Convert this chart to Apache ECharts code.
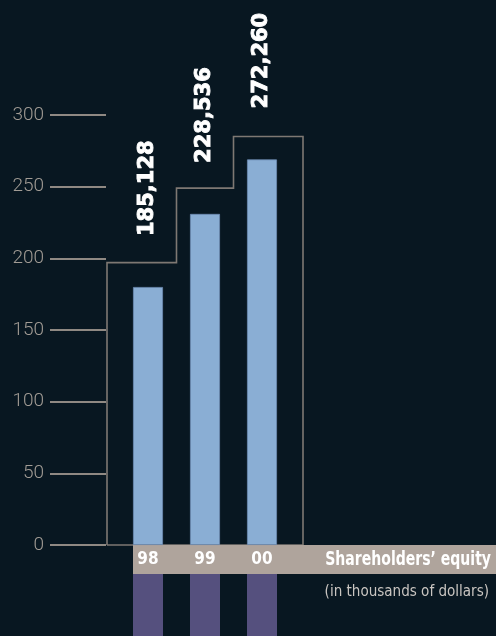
<!DOCTYPE html>
<html>
<head>
<meta charset="utf-8">
<script src="https://cdn.jsdelivr.net/npm/echarts@6/dist/echarts.min.js"></script>
<style>
html,body{margin:0;padding:0;background:#081721;}
#chart{width:496px;height:636px;}
</style>
</head>
<body>
<div id="chart"></div>
<script>
// Data
const categories = ['98', '99', '00'];
const equityBars = [180, 231, 269];          // bar heights as drawn (scale units)
const valueLabels = ['185,128', '228,536', '272,260'];
const stepLevels = [197, 249, 285];          // stepped outline levels
const yMin = 0, yMax = 300, yInterval = 50;
const titleText = 'Shareholders’ equity';
const subtitleText = '(in thousands of dollars)';

const BAR_W = 30;
const BAND_H = 29;
const PAD = 12.5;
const COND = '"Liberation Sans Narrow", "DejaVu Sans Condensed", sans-serif';

const chart = echarts.init(document.getElementById('chart'), null, {renderer: 'canvas'});

function renderDecor(params, api) {
  if (params.dataIndex !== 0) return null;
  const bw = api.size([1, 0])[0];
  const y0 = api.coord([0, 0])[1];
  const cx = categories.map((c, i) => api.coord([i, 0])[0]);
  const ly = stepLevels.map((v, i) => api.coord([i, v])[1]);
  const left = cx[0] - bw / 2 - PAD;
  const right = cx[cx.length - 1] + bw / 2 + PAD;
  const pts = [[left, y0], [left, ly[0]]];
  for (let i = 0; i < cx.length; i++) {
    const edge = i < cx.length - 1 ? cx[i] + bw / 2 : right;
    pts.push([edge, ly[i]]);
    if (i < cx.length - 1) pts.push([edge, ly[i + 1]]);
  }
  pts.push([right, y0]);
  pts.push([left, y0]);
  const children = [{
    type: 'polyline',
    shape: {points: pts},
    style: {stroke: '#7e7873', lineWidth: 1.6, fill: null}
  }];
  children.push({
    type: 'rect',
    shape: {x: cx[0] - BAR_W / 2, y: y0, width: api.getWidth() - (cx[0] - BAR_W / 2), height: BAND_H},
    style: {fill: '#afa49c'}
  });
  cx.forEach(x => {
    children.push({
      type: 'rect',
      shape: {x: x - BAR_W / 2, y: y0 + BAND_H, width: BAR_W, height: api.getHeight() - y0 - BAND_H},
      style: {fill: '#55507e'}
    });
  });
  return {type: 'group', children: children};
}

const option = {
  backgroundColor: '#081721',
  animation: false,
  graphic: [
    {
      type: 'text', x: 491, y: 559.5, scaleX: 0.78, z: 10,
      style: {
        text: titleText, align: 'right', verticalAlign: 'middle',
        fill: '#ffffff', fontFamily: COND, fontWeight: 'bold', fontSize: 20
      }
    },
    {
      type: 'text', x: 489, y: 592, scaleX: 0.94, z: 10,
      style: {
        text: subtitleText, align: 'right', verticalAlign: 'middle',
        fill: '#c9c5c1', fontFamily: COND, fontWeight: 'normal', fontSize: 16
      }
    }
  ],
  grid: {left: 119.5, right: 205.5, top: 115, bottom: 91, containLabel: false},
  xAxis: {
    type: 'category',
    data: categories,
    z: 5,
    axisLine: {show: false},
    axisTick: {show: false},
    axisLabel: {
      color: '#ffffff', fontFamily: COND,
      fontWeight: 'bold', fontSize: 17, margin: 6
    }
  },
  yAxis: {
    type: 'value',
    min: yMin, max: yMax, interval: yInterval,
    offset: 13.5,
    splitLine: {show: false},
    axisLine: {show: false},
    axisTick: {show: true, length: 56, lineStyle: {color: '#8f8983', width: 1.8}},
    axisLabel: {color: '#a29c95', fontFamily: 'Roboto', fontWeight: 300, fontSize: 19, margin: 62}
  },
  series: [
    {
      type: 'custom',
      z: 1,
      clip: false,
      renderItem: renderDecor,
      data: stepLevels.map((v, i) => [i, v]),
      silent: true
    },
    {
      type: 'bar',
      z: 2,
      barWidth: BAR_W,
      data: equityBars,
      itemStyle: {color: '#8aaed4', borderColor: '#6d8cb2', borderWidth: 0.8},
      label: {
        show: true,
        position: 'top',
        distance: 51,
        rotate: 90,
        align: 'left',
        verticalAlign: 'middle',
        formatter: p => valueLabels[p.dataIndex],
        color: '#ffffff',
        textBorderColor: '#ffffff',
        textBorderWidth: 0.9,
        fontFamily: '"DejaVu Sans", sans-serif',
        fontWeight: 'bold',
        fontSize: 21
      }
    }
  ]
};
chart.setOption(option);
</script>
</body>
</html>
